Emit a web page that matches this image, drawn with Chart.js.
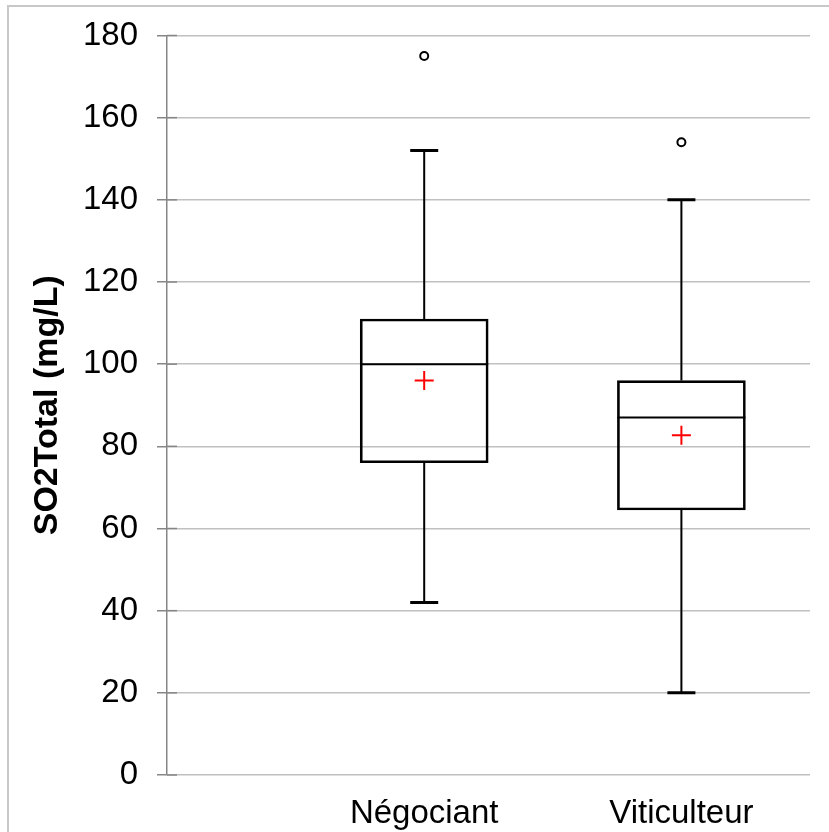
<!DOCTYPE html>
<html>
<head>
<meta charset="utf-8">
<title>SO2Total</title>
<script src="https://cdn.jsdelivr.net/npm/chart.js@4/dist/chart.umd.min.js"></script>
<style>
  html, body { margin: 0; padding: 0; background: #fff; }
  canvas { display: block; }
</style>
</head>
<body>
<canvas id="myChart" width="829" height="832"></canvas>
<script>
// box plot statistics
var categories = ['Négociant', 'Viticulteur'];
var positions = [1, 2];
var minimum = [42, 20];
var q1 = [76, 64.5];
var median = [100, 87];
var q3 = [111, 96];
var maximum = [152, 140];
var mean = [96, 82.7];
var outliers = [[175], [154]];
var yTicks = [0, 20, 40, 60, 80, 100, 120, 140, 160, 180];

var boxData = positions.map(function(p, i) { return { x: p, y: [q1[i], q3[i]] }; });
var meanData = positions.map(function(p, i) { return { x: p, y: mean[i] }; });
var outlierData = [];
positions.forEach(function(p, i) {
  outliers[i].forEach(function(v) { outlierData.push({ x: p, y: v }); });
});

// whiskers, caps, median and the frame
var boxExtras = {
  id: 'boxExtras',
  beforeDraw: function(chart) {
    var ctx = chart.ctx;
    ctx.save();
    ctx.fillStyle = '#fff';
    ctx.fillRect(0, 0, chart.width, chart.height);
    ctx.strokeStyle = '#c8c8c8';
    ctx.lineWidth = 2;
    ctx.strokeRect(8, 6, chart.width + 20, chart.height + 20);
    ctx.restore();
  },
  afterDatasetsDraw: function(chart) {
    var ctx = chart.ctx, xs = chart.scales.x, ys = chart.scales.y;
    ctx.save();
    // short inner part of the y ticks
    ctx.strokeStyle = '#868686';
    ctx.lineWidth = 1.5;
    yTicks.forEach(function(t) {
      var y = ys.getPixelForValue(t);
      ctx.beginPath();
      ctx.moveTo(chart.chartArea.left, y);
      ctx.lineTo(chart.chartArea.left + 10, y);
      ctx.stroke();
    });
    ctx.strokeStyle = '#000';
    positions.forEach(function(p, i) {
      var x = xs.getPixelForValue(p);
      var half = 14;
      var boxHalf = 64;
      ctx.lineWidth = 2;
      ctx.beginPath();
      ctx.moveTo(x, ys.getPixelForValue(q3[i]));
      ctx.lineTo(x, ys.getPixelForValue(maximum[i]));
      ctx.moveTo(x, ys.getPixelForValue(q1[i]));
      ctx.lineTo(x, ys.getPixelForValue(minimum[i]));
      ctx.stroke();
      ctx.lineWidth = 3;
      ctx.beginPath();
      ctx.moveTo(x - half, ys.getPixelForValue(maximum[i]));
      ctx.lineTo(x + half, ys.getPixelForValue(maximum[i]));
      ctx.moveTo(x - half, ys.getPixelForValue(minimum[i]));
      ctx.lineTo(x + half, ys.getPixelForValue(minimum[i]));
      ctx.stroke();
      ctx.lineWidth = 2;
      ctx.beginPath();
      ctx.moveTo(x - boxHalf, ys.getPixelForValue(median[i]));
      ctx.lineTo(x + boxHalf, ys.getPixelForValue(median[i]));
      ctx.stroke();
    });
    ctx.restore();
  }
};

var ctx = document.getElementById('myChart').getContext('2d');
var myChart = new Chart(ctx, {
  type: 'bar',
  data: {
    datasets: [
      {
        type: 'bar',
        label: 'box',
        data: boxData,
        backgroundColor: 'rgba(0,0,0,0)',
        borderColor: '#000',
        borderWidth: 2,
        borderSkipped: false,
        barThickness: 128,
        order: 3
      },
      {
        type: 'scatter',
        label: 'mean',
        data: meanData,
        pointStyle: 'cross',
        pointRadius: 9.5,
        pointBorderWidth: 2,
        borderColor: '#ff0000',
        backgroundColor: '#ff0000',
        order: 1
      },
      {
        type: 'scatter',
        label: 'outliers',
        data: outlierData,
        pointStyle: 'circle',
        pointRadius: 4,
        pointBorderWidth: 2,
        borderColor: '#000',
        backgroundColor: '#fff',
        order: 2
      }
    ]
  },
  options: {
    responsive: false,
    animation: false,
    layout: { padding: { left: 0, right: 19, top: 33, bottom: 0 } },
    plugins: {
      legend: { display: false },
      tooltip: { enabled: false }
    },
    scales: {
      x: {
        type: 'linear',
        min: 0,
        max: 2.5,
        offset: false,
        grid: { display: false },
        border: { display: false },
        afterBuildTicks: function(scale) {
          scale.ticks = positions.map(function(p) { return { value: p }; });
        },
        afterFit: function(scale) { scale.height = 57; },
        ticks: {
          autoSkip: false,
          maxRotation: 0,
          padding: 11,
          color: '#000',
          font: { family: 'Liberation Sans, Arial, sans-serif', size: 33 },
          callback: function(v) {
            var i = positions.indexOf(v);
            return i >= 0 ? categories[i] : '';
          }
        }
      },
      y: {
        min: 0,
        max: 180,
        afterBuildTicks: function(scale) {
          scale.ticks = yTicks.map(function(t) { return { value: t }; });
        },
        afterFit: function(scale) { scale.width = 167; },
        grid: {
          color: '#c0c0c0',
          lineWidth: 1.5,
          tickLength: 10,
          tickColor: '#868686'
        },
        border: { color: '#868686', width: 1.5 },
        ticks: {
          padding: 19,
          color: '#000',
          font: { family: 'Liberation Sans, Arial, sans-serif', size: 33, lineHeight: 1 }
        },
        title: {
          display: true,
          text: 'SO2Total (mg/L)',
          color: '#000',
          padding: { top: 27, bottom: 0 },
          font: { family: 'Liberation Sans, Arial, sans-serif', size: 34, weight: 'bold' }
        }
      }
    }
  },
  plugins: [boxExtras]
});
</script>
</body>
</html>
